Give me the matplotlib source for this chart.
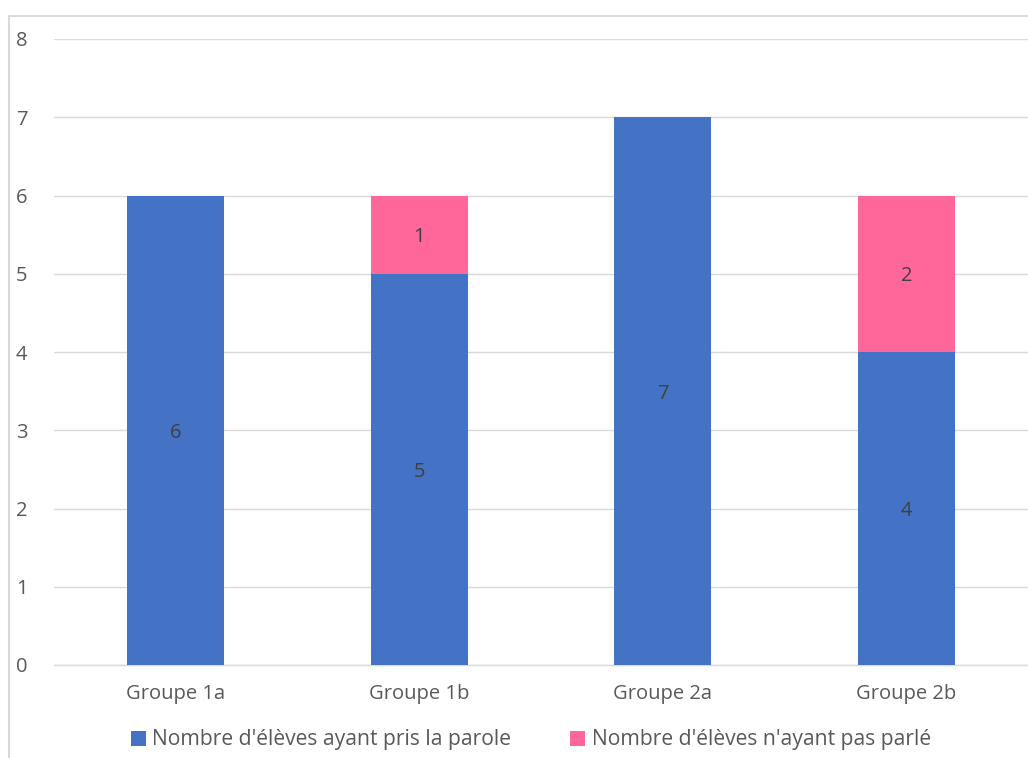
import matplotlib
matplotlib.use("Agg")
import matplotlib.pyplot as plt
from matplotlib.patches import Rectangle
from matplotlib.transforms import ScaledTranslation

groups = ["Groupe 1a", "Groupe 1b", "Groupe 2a", "Groupe 2b"]
spoke = [6, 5, 7, 4]
silent = [0, 1, 0, 2]
label_spoke = "Nombre d'élèves ayant pris la parole"
label_silent = "Nombre d'élèves n'ayant pas parlé"

blue = "#4472C4"
pink = "#FF6699"
text_col = "#595959"

plt.rcParams["font.family"] = ["Open Sans", "DejaVu Sans"]

fig = plt.figure(figsize=(10.28, 7.58), dpi=100)
ax = fig.add_axes([54 / 1028, 93 / 758, 1 - 54 / 1028, (665 - 39) / 758])

x = range(len(groups))
b1 = ax.bar(x, spoke, width=0.4, color=blue, label=label_spoke, zorder=3)
b2 = ax.bar(x, silent, width=0.4, bottom=spoke, color=pink, label=label_silent, zorder=3)

# data labels, skip empty segments
for i in x:
    ax.text(i, spoke[i] / 2, str(spoke[i]), ha="center", va="center_baseline",
            fontsize=14.5, color="#404040", zorder=4)
    if silent[i] > 0:
        ax.text(i, spoke[i] + silent[i] / 2, str(silent[i]), ha="center", va="center_baseline",
                fontsize=14.5, color="#404040", zorder=4)

ax.set_xlim(-0.5, len(groups) - 0.5)
ax.set_ylim(0, 8)
ax.set_yticks(range(0, 9))
ax.set_xticks(list(x))
ax.set_xticklabels(groups)
ax.grid(axis="y", color="#d9d9d9", linewidth=1, zorder=0)
ax.axhline(0, color="#d9d9d9", linewidth=1, zorder=1, clip_on=False)
for s in ax.spines.values():
    s.set_visible(False)
ax.tick_params(axis="both", length=0, labelsize=14.5, colors=text_col)
ax.tick_params(axis="x", pad=14)
ax.yaxis.set_tick_params(pad=0)
for lbl in ax.get_yticklabels():
    lbl.set_horizontalalignment("left")
    lbl.set_transform(lbl.get_transform() + ScaledTranslation(-38 / 100, 0, fig.dpi_scale_trans))

fig.legend(handles=[b1, b2], loc="center", bbox_to_anchor=(531 / 1028, 1 - 740 / 758),
           ncol=2, frameon=False, fontsize=15.2, handlelength=0.7, handleheight=0.7,
           handletextpad=0.3, columnspacing=2.8, labelcolor=text_col)

# outer chart frame
fig.patches.append(Rectangle((9 / 1028, -0.1), 1.2, 1 - 16 / 758 + 0.1, transform=fig.transFigure,
                             fill=False, edgecolor="#d9d9d9", linewidth=1.5))

fig.savefig("out.png", dpi=100)
